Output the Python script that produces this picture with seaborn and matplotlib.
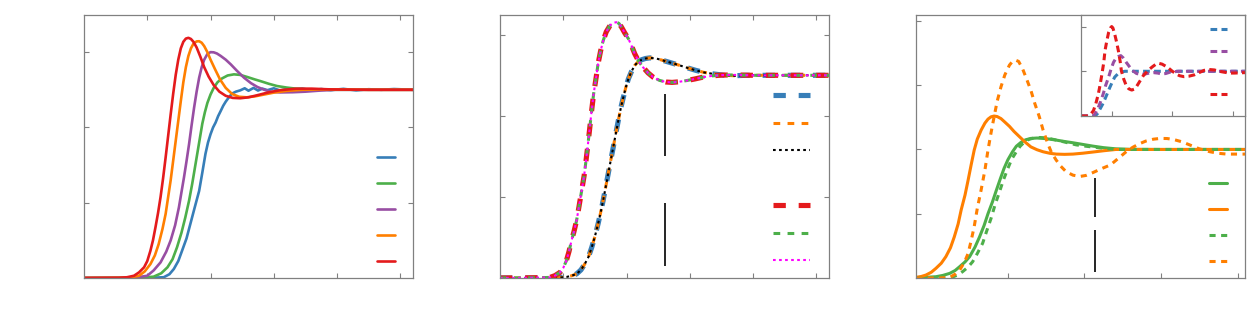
import numpy as np
import matplotlib
matplotlib.use("Agg")
import matplotlib.pyplot as plt
from matplotlib.lines import Line2D
import seaborn as sns

# ---------------- data ----------------
# Panel 1
red1_x = [0, 0.55, 0.68, 0.79, 0.87, 0.95, 1.0, 1.05, 1.09, 1.13, 1.17, 1.21, 1.25, 1.29, 1.33, 1.37, 1.41, 1.45, 1.49, 1.53, 1.57, 1.61, 1.65, 1.69, 1.73, 1.78, 1.84, 1.9, 1.97, 2.05, 2.14, 2.24, 2.35, 2.47, 2.6, 2.75, 2.9, 3.1, 3.35, 3.6, 3.9, 4.5, 5.2]
red1_y = [0, 0.001, .004, .012, .03, .057, .09, .145, .2, .27, .345, .43, .53, .64, .755, .87, .98, 1.08, 1.16, 1.22, 1.255, 1.272, 1.276, 1.27, 1.255, 1.225, 1.175, 1.12, 1.07, 1.025, .99, .968, .957, .955, .96, .972, .985, .998, 1.006, 1.006, 1.002, 1.0, 1.0]
orange1_x = [0, 0.6, 0.75, .87, .96, 1.05, 1.12, 1.18, 1.24, 1.29, 1.33, 1.37, 1.41, 1.45, 1.49, 1.53, 1.57, 1.61, 1.65, 1.69, 1.73, 1.78, 1.82, 1.86, 1.9, 1.95, 2.0, 2.07, 2.15, 2.24, 2.34, 2.45, 2.57, 2.7, 2.85, 3.0, 3.2, 3.45, 3.8, 4.5, 5.2]
orange1_y = [0, .001, .004, .012, .035, .074, .12, .18, .26, .34, .43, .52, .625, .73, .835, .94, 1.04, 1.12, 1.18, 1.22, 1.245, 1.257, 1.258, 1.25, 1.232, 1.2, 1.16, 1.11, 1.055, 1.01, .978, .963, .96, .965, .975, .985, .994, 1.0, 1.002, 1.0, 1.0]
purple1_x = [0, 0.7, 0.85, 1.0, 1.1, 1.21, 1.3, 1.37, 1.44, 1.5, 1.54, 1.58, 1.62, 1.66, 1.7, 1.74, 1.78, 1.82, 1.86, 1.9, 1.95, 2.0, 2.05, 2.1, 2.16, 2.24, 2.32, 2.42, 2.53, 2.64, 2.74, 2.85, 2.95, 3.1, 3.3, 3.5, 3.7, 3.95, 4.5, 5.2]
purple1_y = [0, .001, .004, .012, .04, .083, .14, .2, .28, .375, .455, .534, .62, .71, .81, .905, .99, 1.064, 1.12, 1.16, 1.19, 1.2, 1.199, 1.193, 1.18, 1.16, 1.135, 1.1, 1.064, 1.035, 1.015, 1.0, .99, .986, .987, .99, .995, 1.0, 1.0, 1.0]
green1_x = [0, 0.8, 0.95, 1.1, 1.22, 1.32, 1.4, 1.47, 1.54, 1.6, 1.66, 1.71, 1.75, 1.79, 1.83, 1.87, 1.91, 1.95, 2.0, 2.05, 2.11, 2.18, 2.27, 2.37, 2.47, 2.58, 2.7, 2.79, 2.92, 3.05, 3.2, 3.35, 3.55, 3.8, 4.5, 5.2]
green1_y = [0, .001, .003, .007, .025, .057, .1, .163, .24, .32, .41, .5, .58, .66, .74, .82, .88, .93, .975, 1.01, 1.04, 1.06, 1.076, 1.082, 1.079, 1.068, 1.055, 1.046, 1.032, 1.02, 1.012, 1.006, 1.002, 1.0, 1.0, 1.0]
blue1_x = [0, 0.9, 1.1, 1.26, 1.35, 1.42, 1.49, 1.55, 1.62, 1.68, 1.75, 1.82, 1.87, 1.92, 1.96, 2.0, 2.04, 2.08, 2.12, 2.16, 2.2, 2.24, 2.29, 2.34, 2.4, 2.47, 2.54, 2.6, 2.68, 2.75, 2.82, 2.9, 3.0, 3.1, 3.2, 3.3, 3.45, 3.6, 3.75, 3.9, 4.1, 4.3, 4.5, 4.7, 4.9, 5.2]
blue1_y = [0, .001, .002, .004, .02, .048, .09, .145, .21, .286, .375, .463, .56, .66, .72, .764, .8, .826, .86, .887, .915, .937, .96, .98, .99, .997, 1.008, .995, 1.01, .996, 1.006, .998, 1.008, .996, 1.004, 1.0, 1.006, .997, 1.004, .998, 1.005, .997, 1.003, 1.0, 1.004, 1.0]

# Panel 2
fast_x = [0, 0.5, 0.7, .79, .87, .95, 1.0, 1.05, 1.09, 1.13, 1.17, 1.21, 1.25, 1.29, 1.33, 1.36, 1.39, 1.42, 1.45, 1.48, 1.52, 1.55, 1.59, 1.63, 1.68, 1.74, 1.79, 1.84, 1.88, 1.92, 1.97, 2.03, 2.08, 2.13, 2.19, 2.26, 2.34, 2.42, 2.52, 2.62, 2.72, 2.83, 2.95, 3.08, 3.21, 3.35, 3.5, 3.7, 4.0, 4.6, 5.2]
fast_y = [0, .001, .002, .003, .012, .028, .05, .086, .13, .184, .23, .283, .355, .43, .505, .58, .66, .744, .83, .909, .99, 1.057, 1.12, 1.17, 1.215, 1.246, 1.259, 1.262, 1.256, 1.238, 1.21, 1.18, 1.145, 1.106, 1.07, 1.04, 1.012, .991, .975, .967, .965, .968, .974, .982, .991, .997, 1.001, 1.002, 1.0, 1.0, 1.0]
slow_x = [0, 0.8, 0.95, 1.05, 1.13, 1.21, 1.28, 1.34, 1.4, 1.45, 1.5, 1.55, 1.59, 1.63, 1.67, 1.71, 1.75, 1.79, 1.83, 1.87, 1.91, 1.95, 1.99, 2.03, 2.08, 2.13, 2.18, 2.24, 2.3, 2.37, 2.47, 2.58, 2.7, 2.84, 2.97, 3.1, 3.23, 3.37, 3.55, 3.7, 3.9, 4.2, 5.2]
slow_y = [0, 0, .002, .005, .011, .02, .04, .069, .105, .151, .205, .267, .322, .382, .448, .514, .58, .645, .712, .777, .84, .892, .942, .983, 1.02, 1.049, 1.066, 1.077, 1.083, 1.086, 1.083, 1.073, 1.062, 1.049, 1.036, 1.024, 1.014, 1.007, 1.0, .998, 1.0, 1.0, 1.0]
mark2_x = 2.6
mark2_lo = [0.059, 0.6]
mark2_hi = [0.37, 0.909]

# Panel 3
gs_x = [-0.2, -0.05, 0.06, 0.15, 0.24, 0.31, 0.37, 0.44, 0.5, 0.57, 0.63, 0.69, 0.74, 0.8, 0.85, 0.9, 0.95, 1.0, 1.06, 1.11, 1.17, 1.23, 1.3, 1.38, 1.46, 1.55, 1.63, 1.74, 1.85, 1.98, 2.11, 2.25, 2.41, 2.6, 3.0, 4.1]
gs_y = [.003, .006, .01, .02, .036, .058, .088, .125, .166, .24, .32, .41, .5, .595, .684, .77, .853, .92, .982, 1.025, 1.055, 1.075, 1.086, 1.089, 1.086, 1.08, 1.073, 1.062, 1.052, 1.039, 1.026, 1.014, 1.005, 1.001, 1.0, 1.0]
os_x = [-0.2, -0.13, -0.07, 0.0, 0.06, 0.13, 0.19, 0.25, 0.3, 0.35, 0.39, 0.44, 0.48, 0.52, 0.56, 0.6, 0.65, 0.7, 0.74, 0.78, 0.82, 0.86, 0.91, 0.96, 1.02, 1.08, 1.15, 1.22, 1.3, 1.38, 1.46, 1.55, 1.63, 1.74, 1.85, 1.98, 2.11, 2.25, 2.41, 3.0, 4.1]
os_y = [.005, .012, .023, .045, .075, .115, .166, .235, .32, .42, .53, .645, .76, .88, .995, 1.08, 1.15, 1.205, 1.236, 1.254, 1.26, 1.256, 1.24, 1.213, 1.18, 1.14, 1.1, 1.06, 1.02, .998, .982, .97, .964, .962, .964, .971, .98, .99, 1.0, 1.0, 1.0]
gd_x = [-0.2, 0.1, 0.2, 0.28, 0.35, 0.41, 0.48, 0.54, 0.6, 0.67, 0.72, 0.78, 0.83, 0.89, 0.94, 1.0, 1.05, 1.11, 1.16, 1.22, 1.28, 1.35, 1.42, 1.5, 1.58, 1.67, 1.78, 1.89, 2.02, 2.15, 2.28, 2.41, 3.0, 4.1]
gd_y = [0, .001, .003, .008, .025, .05, .085, .127, .19, .27, .36, .464, .565, .67, .76, .853, .925, .982, 1.025, 1.06, 1.08, 1.09, 1.093, 1.09, 1.08, 1.068, 1.052, 1.036, 1.025, 1.016, 1.007, 1.0, 1.0, 1.0]
od_x = [-0.2, 0.1, 0.18, 0.24, 0.3, 0.37, 0.43, 0.48, 0.52, 0.56, 0.6, 0.65, 0.7, 0.74, 0.78, 0.82, 0.86, 0.91, 0.96, 1.02, 1.06, 1.1, 1.14, 1.19, 1.24, 1.3, 1.35, 1.41, 1.46, 1.52, 1.57, 1.63, 1.69, 1.76, 1.85, 1.94, 2.02, 2.11, 2.22, 2.34, 2.42, 2.5, 2.57, 2.64, 2.72, 2.8, 2.9, 2.99, 3.08, 3.16, 3.27, 3.38, 3.5, 3.64, 3.75, 3.86, 4.1]
od_y = [0, 0, .002, .005, .025, .062, .12, .19, .29, .4, .54, .684, .84, .995, 1.13, 1.255, 1.375, 1.488, 1.58, 1.656, 1.685, 1.695, 1.685, 1.63, 1.555, 1.46, 1.36, 1.255, 1.15, 1.047, .975, .918, .87, .827, .8, .79, .798, .82, .85, .88, .92, .96, .995, 1.02, 1.045, 1.065, 1.08, 1.086, 1.085, 1.078, 1.06, 1.034, 1.005, .982, .97, .964, .964]
mark3_x = 2.14
mark3_lo = [0.049, 0.477]
mark3_hi = [0.373, 0.775]

# Inset
red_i_x = [0, .09, .15, .2, .24, .28, .31, .34, .37, .39, .42, .45, .48, .5, .52, .55, .58, .61, .64, .66, .7, .74, .78, .83, .87, .91, .96, 1.02, 1.09, 1.17, 1.22, 1.27, 1.33, 1.42, 1.49, 1.56, 1.62, 1.69, 1.77, 1.86, 1.94, 2.02, 2.1, 2.19, 2.27, 2.35, 2.44, 2.52, 2.6, 2.7]
red_i_y = [0, 0, .03, .12, .28, .49, .7, .94, 1.2, 1.46, 1.68, 1.87, 1.97, 2.0, 1.97, 1.83, 1.66, 1.46, 1.22, 1.01, .82, .68, .61, .58, .6, .66, .77, .9, 1.01, 1.1, 1.15, 1.18, 1.16, 1.09, 1.01, .94, .9, .88, .89, .92, .97, 1.02, 1.04, 1.03, 1.0, .98, .96, .96, .965, .97]
pur_i_x = [0, .2, .24, .28, .32, .36, .4, .45, .49, .53, .57, .61, .65, .69, .74, .8, .85, .91, .98, 1.05, 1.12, 1.19, 1.26, 1.32, 1.39, 1.46, 1.6, 1.74, 2.19, 2.7]
pur_i_y = [0, 0, .08, .19, .33, .49, .68, .87, 1.05, 1.2, 1.29, 1.33, 1.35, 1.3, 1.2, 1.09, 1.01, .95, .93, .94, .96, .97, .96, .94, .95, .98, 1.0, 1.0, 1.0, 1.0]
blue_i_x = [0, .23, .27, .31, .35, .39, .43, .47, .51, .55, .6, .64, .72, 2.7]
blue_i_y = [0, 0, .06, .16, .26, .38, .51, .64, .76, .87, .94, .98, 1.0, 1.0]

# ---------------- style ----------------
RED, BLUE, GREEN, PURPLE, ORANGE = "#e41a1c", "#377eb8", "#4daf4a", "#984ea3", "#ff7f00"
MAGENTA, BLACK = "#ff00ff", "#000000"
GRAY = "#808080"

sns.set_theme(style="white")
plt.rcParams["font.family"] = ["DejaVu Sans"]

fig = plt.figure(figsize=(12.6, 3.2), dpi=100)
fig.patch.set_facecolor("white")

def px_axes(l, t, r, b):
    return fig.add_axes([l / 1260, 1 - b / 320, (r - l) / 1260, (b - t) / 320])

def style_axes(ax, top=True, right=True):
    for s in ax.spines.values():
        s.set_color(GRAY)
        s.set_linewidth(0.9)
        s.set_visible(True)
    ax.tick_params(direction="in", length=3.5, width=0.8, color=GRAY,
                   top=top, right=right, bottom=True, left=True,
                   labelbottom=False, labelleft=False)
    ax.set_xlabel("")
    ax.set_ylabel("")
    ax.set_facecolor("white")

def line(ax, x, y, color, lw, ls="-"):
    sns.lineplot(x=np.asarray(x), y=np.asarray(y), ax=ax, color=color, linewidth=lw,
                 linestyle=ls, estimator=None, sort=False, errorbar=None)
    return ax.lines[-1]

def legend(ax, handles, cx, cy, pitch_px, hlen_px):
    fs = 1.0
    u = fs * 100 / 72
    leg = ax.legend(handles, [""] * len(handles), loc="center", bbox_to_anchor=(cx, cy),
                    frameon=False, prop={"size": fs}, handlelength=hlen_px / u,
                    handleheight=0.7, labelspacing=pitch_px / u - 0.7,
                    handletextpad=0, borderpad=0, borderaxespad=0)
    return leg

blank = Line2D([], [], color="none", linewidth=0)

# ---------------- panel 1 ----------------
ax1 = px_axes(84, 14.5, 413, 278)
h1 = [line(ax1, blue1_x, blue1_y, BLUE, 1.9),
      line(ax1, green1_x, green1_y, GREEN, 1.9),
      line(ax1, purple1_x, purple1_y, PURPLE, 1.9),
      line(ax1, orange1_x, orange1_y, ORANGE, 1.9),
      line(ax1, red1_x, red1_y, RED, 1.9)]
ax1.set_xlim(0, 5.2)
ax1.set_ylim(0, 1.4)
ax1.set_xticks([1, 2, 3, 4, 5])
ax1.set_yticks([0.4, 0.8, 1.2])
style_axes(ax1)
legend(ax1, h1, (386 - 84) / 329, (278 - 209) / 263.5, 26, 18)

# ---------------- panel 2 ----------------
ax2 = px_axes(500, 14.5, 829, 278)
hb = line(ax2, slow_x, slow_y, BLUE, 3.7, (0, (2.4, 2.5)))
ho = line(ax2, slow_x, slow_y, ORANGE, 2.2, (0, (2.2, 2.4)))
hk = line(ax2, slow_x, slow_y, BLACK, 1.5, (0, (1.3, 1.6)))
hr = line(ax2, fast_x, fast_y, RED, 3.7, (0, (2.4, 2.5)))
hg = line(ax2, fast_x, fast_y, GREEN, 2.2, (0, (2.2, 2.4)))
hm = line(ax2, fast_x, fast_y, MAGENTA, 1.5, (0, (1.3, 1.6)))
ax2.vlines([mark2_x] * len(mark2_lo), mark2_lo, mark2_hi, color=BLACK, linewidth=1.2)
ax2.set_xlim(0, 5.2)
ax2.set_ylim(0, 1.3)
ax2.set_xticks([1, 2, 3, 4, 5])
ax2.set_yticks([0.4, 0.8, 1.2])
style_axes(ax2)
legend(ax2, [hb, ho, hk, blank, hr, hg, hm], (791.7 - 500) / 329, (278 - 177.7) / 263.5, 27.5, 37.5)

# ---------------- panel 3 ----------------
ax3 = px_axes(916, 14.5, 1245.3, 278)
h3 = [line(ax3, gs_x, gs_y, GREEN, 2.2),
      line(ax3, os_x, os_y, ORANGE, 2.2),
      line(ax3, gd_x, gd_y, GREEN, 2.2, (0, (2.0, 1.8))),
      line(ax3, od_x, od_y, ORANGE, 2.2, (0, (2.0, 1.8)))]
ax3.vlines([mark3_x] * len(mark3_lo), mark3_lo, mark3_hi, color=BLACK, linewidth=1.2)
ax3.set_xlim(-0.2, 4.1)
ax3.set_ylim(0, 2.05)
ax3.set_xticks([1, 2, 3, 4])
ax3.set_yticks([0.5, 1.0, 1.5, 2.0])
style_axes(ax3, top=False, right=False)
legend(ax3, h3, (1218 - 916) / 329.3, (278 - 222) / 263.5, 25.9, 18)

# ---------------- inset ----------------
axi = px_axes(1081.3, 14.5, 1245.3, 116)
axi.set_zorder(5)
hi = [line(axi, blue_i_x, blue_i_y, BLUE, 2.2, (0, (2.2, 1.4))),
      line(axi, pur_i_x, pur_i_y, PURPLE, 2.2, (0, (2.2, 1.4))),
      line(axi, red_i_x, red_i_y, RED, 2.2, (0, (2.2, 1.4)))]
axi.set_xlim(0, 2.7)
axi.set_ylim(0, 2.27)
axi.set_xticks([0.5, 1.5, 2.5])
axi.set_yticks([1, 2])
style_axes(axi, top=False, right=False)
legend(axi, [hi[0], hi[1], blank, hi[2]], (1218.3 - 1081.3) / 164, (116 - 61.7) / 101.5, 21.6, 17)

fig.savefig("out.png", dpi=100, facecolor="white")
